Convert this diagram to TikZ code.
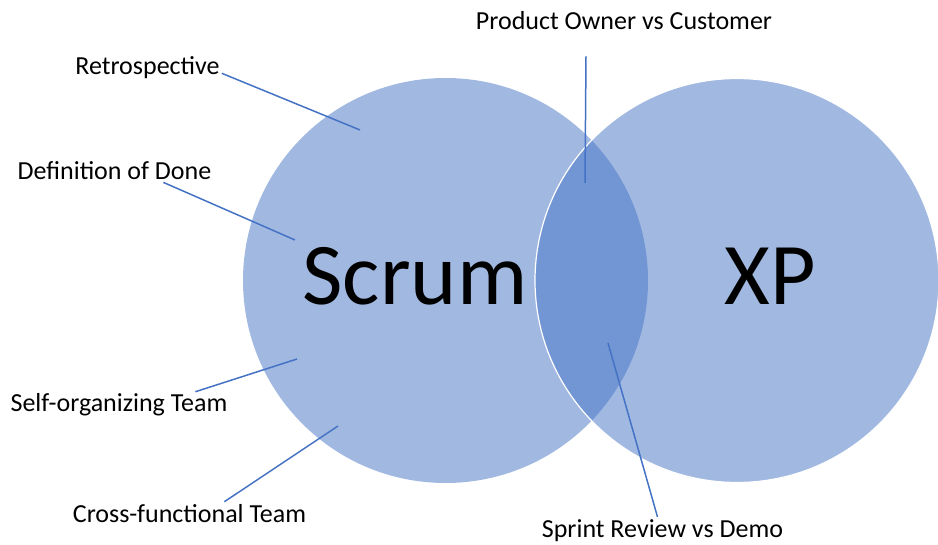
\documentclass[tikz,border=0pt]{standalone}
\usepackage{fontspec}
\setmainfont{Carlito}
\definecolor{vennblue}{HTML}{4472C4}

\begin{document}
\begin{tikzpicture}[x=1pt,y=-1pt,
    topic/.style={font=\fontsize{26}{30}\selectfont, anchor=base, inner sep=2pt},
    bigname/.style={font=\fontsize{88}{100}\selectfont, anchor=base},
    venn/.style={fill=vennblue, fill opacity=0.5},
    pointer/.style={draw=vennblue, line width=1.5pt}]
    \useasboundingbox (0,0) rectangle (938,545);

    \fill[venn] (445.5,280.5) circle[radius=202.5pt];
    \filldraw[venn, draw=white, line width=1.2pt] (737,280.5) circle[radius=202pt];

    \node[bigname] at (415,305)   (Scrum) {Scrum};
    \node[bigname] at (770,305)   (XP)    {XP};

    \node[topic] at (147.5,75)    (Retro) {Retrospective};
    \node[topic] at (114.5,180)   (DoD)   {Definition of Done};
    \node[topic] at (119,412)     (SelfOrg) {Self-organizing Team};
    \node[topic] at (189.5,522)   (CrossFn) {Cross-functional Team};
    \node[topic] at (624,30)      (PO)    {Product Owner vs Customer};
    \node[topic] at (662.5,537)   (Review) {Sprint Review vs Demo};

    \coordinate (RetroIn)   at (360,130);
    \coordinate (DoDIn)     at (295,240);
    \coordinate (SelfOrgIn) at (297,359);
    \coordinate (CrossFnIn) at (338,426);
    \coordinate (POIn)      at (585,183);
    \coordinate (ReviewIn)  at (608,343);

    \draw[pointer] (Retro.-4) -- (RetroIn);
    \draw[pointer] (DoD.-13) -- (DoDIn);
    \draw[pointer] (SelfOrg.10) -- (SelfOrgIn);
    \draw[pointer] (CrossFn.18) -- (CrossFnIn);
    \draw[pointer] ([shift={(-38pt,-24pt)}]PO.south) -- (POIn);
    \draw[pointer] ([xshift=-5pt]Review.north) -- (ReviewIn);
\end{tikzpicture}
\end{document}
